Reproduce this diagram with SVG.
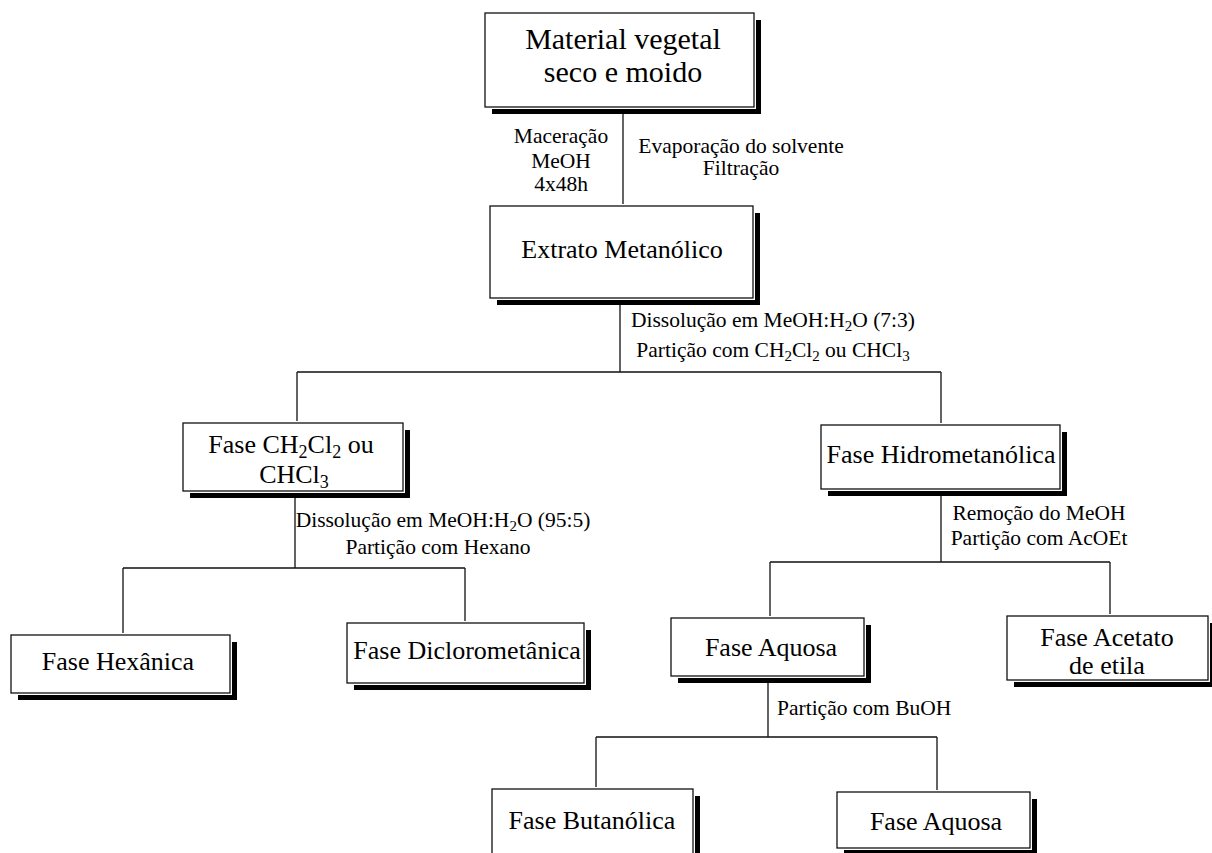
<svg xmlns="http://www.w3.org/2000/svg" width="1212" height="853" viewBox="0 0 1212 853">
<style>
.sh{fill:#000}
.bx{fill:#fff;stroke:#fff;stroke-width:4}
.bd{fill:none;stroke:#111;stroke-width:1.3}
.ln{fill:none;stroke:#111;stroke-width:1.3}
text{font-family:"Liberation Serif","Times New Roman",serif;fill:#000}
.n{font-size:26px;text-anchor:middle}
.big{font-size:30px;text-anchor:middle}
.lb{font-size:21.5px}
.m{text-anchor:middle}
</style>
<rect width="1212" height="853" fill="#fff"/>
<g id="connectors">
<path class="ln" d="M623,107 V206"/>
<path class="ln" d="M620,298 V372 M297,372 H941 M297,372 V423 M941,372 V425"/>
<path class="ln" d="M295,491 V568 M123,568 H465 M123,568 V635 M465,568 V623"/>
<path class="ln" d="M941,489 V562 M770,562 H1110 M770,562 V618 M1110,562 V616"/>
<path class="ln" d="M768,676 V737 M596,737 H937 M596,737 V789 M937,737 V792"/>
</g>
<g id="labels">
<text class="lb m" x="561" y="143">Maceração</text>
<text class="lb m" x="561" y="168">MeOH</text>
<text class="lb m" x="561" y="191">4x48h</text>
<text class="lb m" x="741" y="153">Evaporação do solvente</text>
<text class="lb m" x="741" y="175">Filtração</text>
<text class="lb m" x="773" y="327">Dissolução em MeOH:H<tspan font-size="15" dy="4">2</tspan><tspan dy="-4">O (7:3)</tspan></text>
<text class="lb m" x="773" y="357">Partição com CH<tspan font-size="15" dy="4">2</tspan><tspan dy="-4">Cl</tspan><tspan font-size="15" dy="4">2</tspan><tspan dy="-4"> ou CHCl</tspan><tspan font-size="15" dy="4">3</tspan></text>
<text class="lb m" x="443" y="527">Dissolução em MeOH:H<tspan font-size="15" dy="4">2</tspan><tspan dy="-4">O (95:5)</tspan></text>
<text class="lb m" x="438" y="554">Partição com Hexano</text>
<text class="lb m" x="1039" y="520">Remoção do MeOH</text>
<text class="lb m" x="1039" y="545">Partição com AcOEt</text>
<text class="lb" x="777" y="715">Partição com BuOH</text>
</g>
<g id="material">
<rect class="sh" x="492" y="20" width="269" height="94"/>
<rect class="bx" x="485" y="13" width="269" height="94"/>
<rect class="bd" x="485" y="13" width="269" height="94"/>
<text class="big" x="623" y="49">Material vegetal</text>
<text class="big" x="623" y="82">seco e moido</text>
</g>
<g id="extrato">
<rect class="sh" x="497" y="213" width="263" height="92"/>
<rect class="bx" x="490" y="206" width="263" height="92"/>
<rect class="bd" x="490" y="206" width="263" height="92"/>
<text class="n" x="622" y="258">Extrato Metanólico</text>
</g>
<g id="fase-ch2cl2">
<rect class="sh" x="190" y="430" width="220" height="68"/>
<rect class="bx" x="183" y="423" width="220" height="68"/>
<rect class="bd" x="183" y="423" width="220" height="68"/>
<text class="n" x="291" y="453">Fase CH<tspan font-size="18" dy="5">2</tspan><tspan dy="-5">Cl</tspan><tspan font-size="18" dy="5">2</tspan><tspan dy="-5"> ou</tspan></text>
<text class="n" x="294" y="483">CHCl<tspan font-size="18" dy="5">3</tspan></text>
</g>
<g id="fase-hidrometanolica">
<rect class="sh" x="828" y="432" width="239" height="64"/>
<rect class="bx" x="821" y="425" width="239" height="64"/>
<rect class="bd" x="821" y="425" width="239" height="64"/>
<text class="n" x="941" y="463">Fase Hidrometanólica</text>
</g>
<g id="fase-hexanica">
<rect class="sh" x="18" y="642" width="219" height="58"/>
<rect class="bx" x="11" y="635" width="219" height="58"/>
<rect class="bd" x="11" y="635" width="219" height="58"/>
<text class="n" x="118" y="670">Fase Hexânica</text>
</g>
<g id="fase-diclorometanica">
<rect class="sh" x="354" y="630" width="237" height="60"/>
<rect class="bx" x="347" y="623" width="237" height="60"/>
<rect class="bd" x="347" y="623" width="237" height="60"/>
<text class="n" x="467" y="659">Fase Diclorometânica</text>
</g>
<g id="fase-aquosa-1">
<rect class="sh" x="678" y="625" width="193" height="58"/>
<rect class="bx" x="671" y="618" width="193" height="58"/>
<rect class="bd" x="671" y="618" width="193" height="58"/>
<text class="n" x="771" y="656">Fase Aquosa</text>
</g>
<g id="fase-acetato">
<rect class="sh" x="1014" y="623" width="201" height="64"/>
<rect class="bx" x="1007" y="616" width="201" height="64"/>
<rect class="bd" x="1007" y="616" width="201" height="64"/>
<text class="n" x="1107" y="646">Fase Acetato</text>
<text class="n" x="1107" y="674">de etila</text>
</g>
<g id="fase-butanolica">
<rect class="sh" x="499" y="796" width="201" height="70"/>
<rect class="bx" x="492" y="789" width="201" height="70"/>
<rect class="bd" x="492" y="789" width="201" height="70"/>
<text class="n" x="592" y="829">Fase Butanólica</text>
</g>
<g id="fase-aquosa-2">
<rect class="sh" x="844" y="799" width="193" height="56"/>
<rect class="bx" x="837" y="792" width="193" height="56"/>
<rect class="bd" x="837" y="792" width="193" height="56"/>
<text class="n" x="936" y="830">Fase Aquosa</text>
</g>
</svg>
